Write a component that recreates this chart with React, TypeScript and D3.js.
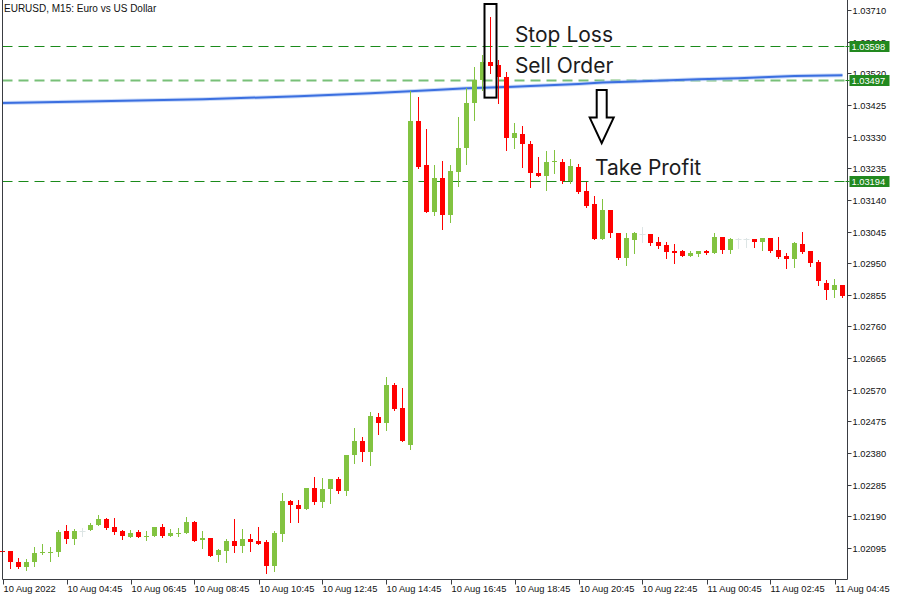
import React from "react";
import * as d3 from "d3";

// ---------- DATA (EURUSD M15, candles index 0..105) ----------
const opens = [
  1.02087, 1.02085, 1.02054, 1.02037, 1.02052, 1.02079, 1.02083, 1.02082, 1.02147, 1.02121,
  1.02147, 1.02148, 1.02163, 1.02183, 1.02159, 1.02147, 1.02129, 1.02144, 1.02127, 1.0213,
  1.02159, 1.0213, 1.0214, 1.02139, 1.02174, 1.02118, 1.02126, 1.02073, 1.02085, 1.02117,
  1.021, 1.02123, 1.02115, 1.02112, 1.0204, 1.02136, 1.02237, 1.02225, 1.02211, 1.02276,
  1.02232, 1.02271, 1.02303, 1.02265, 1.02373, 1.02417, 1.02382, 1.02489, 1.02469, 1.02585,
  1.02516, 1.02403, 1.03377, 1.03245, 1.03105, 1.03206, 1.03095, 1.03225, 1.03295, 1.0343,
  1.035, 1.03555, 1.03545, 1.0351, 1.03325, 1.03338, 1.03307, 1.0322, 1.03213, 1.03254,
  1.03254, 1.03196, 1.0324, 1.03167, 1.03128, 1.03023, 1.0311, 1.0304, 1.02967, 1.0302,
  1.03038, 1.03038, 1.03014, 1.03005, 1.02987, 1.02987, 1.02973, 1.02978, 1.02987, 1.02982,
  1.03029, 1.0299, 1.03023, 1.03023, 1.03023, 1.03015, 1.03026, 1.0299, 1.02972, 1.02964,
  1.03008, 1.02987, 1.02955, 1.02891, 1.02868, 1.02885,
];
const highs = [
  1.0209, 1.02087, 1.02066, 1.02063, 1.02099, 1.02108, 1.02099, 1.0215, 1.02165, 1.02153,
  1.02156, 1.02171, 1.02195, 1.02186, 1.02186, 1.0215, 1.0215, 1.0215, 1.02147, 1.02159,
  1.02168, 1.02153, 1.02156, 1.02189, 1.02177, 1.02147, 1.02126, 1.02093, 1.02123, 1.02183,
  1.02153, 1.02138, 1.02159, 1.0212, 1.02147, 1.02261, 1.0224, 1.0224, 1.02276, 1.02309,
  1.02306, 1.02303, 1.02309, 1.02375, 1.02456, 1.02429, 1.02504, 1.02501, 1.02609, 1.02591,
  1.02576, 1.03468, 1.0345, 1.03353, 1.03245, 1.03257, 1.03245, 1.03389, 1.03475, 1.0354,
  1.03575, 1.0369, 1.0356, 1.03525, 1.0337, 1.03362, 1.03317, 1.03269, 1.03288, 1.0329,
  1.03263, 1.03263, 1.03247, 1.03195, 1.03152, 1.03144, 1.0311, 1.0304, 1.03041, 1.03045,
  1.0306, 1.03038, 1.03028, 1.03015, 1.03007, 1.0299, 1.02987, 1.02987, 1.0299, 1.03042,
  1.03029, 1.03026, 1.03025, 1.03025, 1.03023, 1.03026, 1.03026, 1.03029, 1.0298, 1.03015,
  1.03045, 1.02987, 1.02961, 1.029, 1.02903, 1.02885,
];
const lows = [
  1.02081, 1.02034, 1.02034, 1.02028, 1.02042, 1.02076, 1.02055, 1.0207, 1.02109, 1.02106,
  1.02132, 1.02148, 1.02163, 1.02153, 1.02138, 1.02121, 1.02129, 1.02127, 1.02118, 1.0213,
  1.02127, 1.0213, 1.0213, 1.02139, 1.02115, 1.02094, 1.0207, 1.02055, 1.02052, 1.02082,
  1.02084, 1.02085, 1.02106, 1.02019, 1.02025, 1.02115, 1.02172, 1.02172, 1.02211, 1.02226,
  1.02217, 1.02229, 1.02259, 1.02253, 1.02349, 1.02355, 1.02343, 1.02436, 1.02448, 1.0251,
  1.02415, 1.02393, 1.03237, 1.03105, 1.03095, 1.03054, 1.03075, 1.03183, 1.03248, 1.0338,
  1.0347, 1.0352, 1.0343, 1.03289, 1.03297, 1.0324, 1.03179, 1.03213, 1.0317, 1.0322,
  1.0319, 1.03192, 1.03162, 1.0312, 1.03023, 1.03023, 1.03029, 1.02963, 1.02946, 1.0298,
  1.03015, 1.03005, 1.02997, 1.02967, 1.0295, 1.02973, 1.02973, 1.02973, 1.02978, 1.02982,
  1.0298, 1.0298, 1.02997, 1.03, 1.03, 1.0299, 1.02985, 1.02965, 1.02937, 1.02939,
  1.0298, 1.02943, 1.02883, 1.02841, 1.02847, 1.02847,
];
const closes = [
  1.02084, 1.02052, 1.02037, 1.02054, 1.02081, 1.02084, 1.02084, 1.02144, 1.02121, 1.02147,
  1.02147, 1.02165, 1.02183, 1.02155, 1.02144, 1.0213, 1.02141, 1.02127, 1.02132, 1.02159,
  1.0213, 1.02141, 1.02141, 1.02174, 1.02117, 1.02126, 1.0207, 1.0209, 1.02117, 1.021,
  1.02123, 1.02112, 1.02106, 1.0204, 1.02141, 1.02237, 1.02223, 1.02211, 1.02276, 1.02232,
  1.02273, 1.02303, 1.02265, 1.02375, 1.02417, 1.02382, 1.02492, 1.02469, 1.02585, 1.02512,
  1.02415, 1.03377, 1.0324, 1.03105, 1.03206, 1.03095, 1.03227, 1.03296, 1.03431, 1.035,
  1.03555, 1.03543, 1.0351, 1.03325, 1.0334, 1.03307, 1.0322, 1.03213, 1.03254, 1.03256,
  1.03198, 1.03242, 1.03164, 1.03123, 1.03023, 1.0311, 1.0304, 1.02965, 1.03026, 1.0304,
  1.03038, 1.03012, 1.03003, 1.02985, 1.02982, 1.02973, 1.02982, 1.02987, 1.02982, 1.03029,
  1.0299, 1.03023, 1.03023, 1.03023, 1.03015, 1.03026, 1.02987, 1.0297, 1.02964, 1.03012,
  1.02985, 1.02952, 1.02895, 1.02868, 1.02885, 1.02852,
];

// moving average (sampled at bar indices)
const maIndex = [0, 12, 25, 37, 46, 54, 58, 62, 66, 69, 72, 75, 80, 87, 92, 95, 99, 105];
const maValue = [
  1.03431, 1.03436, 1.03442, 1.03451, 1.0346, 1.0347, 1.03475, 1.03478, 1.03482, 1.03485,
  1.03488, 1.03492, 1.03496, 1.03502, 1.03505, 1.03508, 1.03512, 1.03514,
];

const priceTicks = [
  1.0371, 1.03615, 1.0352, 1.03425, 1.0333, 1.03235, 1.0314, 1.03045, 1.0295, 1.02855,
  1.0276, 1.02665, 1.0257, 1.02475, 1.0238, 1.02285, 1.0219, 1.02095,
];
const timeTickIndex = [0, 8, 16, 24, 32, 40, 48, 56, 64, 72, 80, 88, 96, 104];
const timeTickLabels = [
  "10 Aug 2022", "10 Aug 04:45", "10 Aug 06:45", "10 Aug 08:45", "10 Aug 10:45",
  "10 Aug 12:45", "10 Aug 14:45", "10 Aug 16:45", "10 Aug 18:45", "10 Aug 20:45",
  "10 Aug 22:45", "11 Aug 00:45", "11 Aug 02:45", "11 Aug 04:45",
];

const levelNames = ["Stop Loss", "Sell Order", "Take Profit"];
const levelPrices = [1.03598, 1.03497, 1.03194];

const title = "EURUSD, M15:  Euro vs US Dollar";

// ---------- LAYOUT ----------
const W = 900;
const H = 600;
const LEFT = 2.5;
const RIGHT = 847.5;
const BOTTOM = 579.5;
const GREEN = "#82c341";
const RED = "#ff0000";
const DOJI = "#dde5e5";
const AXIS = "#3a3d42";
const FONT = "'Liberation Sans', Arial, sans-serif";
const TICK_FS = 9.3;

export default function App() {
  const x = d3.scaleLinear().domain([0, 105]).range([2.5, 842.5]);
  const y = d3.scaleLinear().domain([1.02095, 1.0371]).range([548, 10]);

  const maLine = d3
    .line<number>()
    .x((_, i) => x(maIndex[i]))
    .y((d) => y(d));
  const maPath = maLine(maValue) || "";

  const candles = opens.map((o, i) => ({ i, o, h: highs[i], l: lows[i], c: closes[i] }));

  // annotation anchors (in data space)
  const boxIdx = 61;
  const boxTop = 1.03728;
  const boxBottom = 1.03447;
  const arrowIdx = 74.9;
  const arrowTop = 1.0347;
  const arrowShaftEnd = 1.03387;
  const arrowTip = 1.0331;

  const ax = x(arrowIdx);
  const ay0 = y(arrowTop);
  const ay1 = y(arrowShaftEnd);
  const ay2 = y(arrowTip);
  const arrowPts = [
    [ax - 5, ay0],
    [ax + 5, ay0],
    [ax + 5, ay1],
    [ax + 12, ay1],
    [ax, ay2],
    [ax - 12, ay1],
    [ax - 5, ay1],
  ]
    .map((p) => p.join(","))
    .join(" ");

  const labelPos = [
    { idx: 64.05, price: 1.03614 },
    { idx: 64.05, price: 1.0352 },
    { idx: 74.05, price: 1.03216 },
  ];

  const lvlY = (p: number) => Math.round(y(p)) - 0.5;

  return (
    <svg
      width={W}
      height={H}
      style={{ position: "absolute", left: 0, top: 0, background: "#fff" }}
      fontFamily={FONT}
    >
      <rect x={0} y={0} width={W} height={H} fill="#fff" />

      {/* level lines */}
      {levelPrices.map((p, i) => {
        const yy = lvlY(p);
        const sell = i === 1;
        return (
          <line
            key={"lvl" + i}
            x1={LEFT}
            x2={RIGHT}
            y1={yy}
            y2={yy}
            stroke={sell ? "#78c078" : "#1a8a1a"}
            strokeWidth={sell ? 2 : 1}
            strokeDasharray="10,6"
          />
        );
      })}

      {/* moving average */}
      <path d={maPath} fill="none" stroke="#a9c3f3" strokeWidth={4} opacity={0.6} />
      <path d={maPath} fill="none" stroke="#3b6fe0" strokeWidth={2} />

      {/* candles */}
      {candles.map((d) => {
        const cx = x(d.i);
        const color = d.c > d.o ? GREEN : d.c < d.o ? RED : DOJI;
        const top = Math.round(y(Math.max(d.o, d.c)));
        const bot = Math.round(y(Math.min(d.o, d.c)));
        const hy = Math.round(y(d.h));
        const ly = Math.round(y(d.l));
        const doji = d.c === d.o;
        return (
          <g key={"c" + d.i}>
            <line x1={cx} x2={cx} y1={hy} y2={ly + 1} stroke={color} strokeWidth={1} />
            {doji ? (
              <line x1={cx - 3} x2={cx + 3} y1={top + 0.5} y2={top + 0.5} stroke={color} strokeWidth={1} />
            ) : (
              <rect x={cx - 2.5} y={top} width={5} height={Math.max(1, bot - top)} fill={color} />
            )}
          </g>
        );
      })}

      {/* highlight box */}
      <rect
        x={x(boxIdx) - 6}
        y={y(boxTop)}
        width={12}
        height={y(boxBottom) - y(boxTop)}
        fill="none"
        stroke="#000"
        strokeWidth={2}
      />

      {/* arrow */}
      <polygon points={arrowPts} fill="#fff" stroke="#000" strokeWidth={2} strokeLinejoin="miter" />

      {/* annotation texts */}
      {levelNames.map((n, i) => (
        <text
          key={"ann" + i}
          x={x(labelPos[i].idx)}
          y={y(labelPos[i].price)}
          fontFamily="Inter, 'Open Sans', sans-serif"
          fontSize={21}
          fill="#1c1c1c"
        >
          {n}
        </text>
      ))}

      {/* frame */}
      <line x1={LEFT} x2={LEFT} y1={0} y2={BOTTOM} stroke={AXIS} strokeWidth={1} />
      <line x1={RIGHT} x2={RIGHT} y1={0} y2={BOTTOM} stroke={AXIS} strokeWidth={1} />
      <line x1={LEFT} x2={RIGHT} y1={BOTTOM} y2={BOTTOM} stroke={AXIS} strokeWidth={1} />

      {/* price axis */}
      {priceTicks.map((p, i) => {
        const yy = Math.round(y(p)) + 0.5;
        return (
          <g key={"pt" + i}>
            <line x1={RIGHT} x2={RIGHT + 4} y1={yy} y2={yy} stroke={AXIS} />
            <text x={RIGHT + 5} y={yy + 3.5} fontSize={TICK_FS} fill="#111">
              {p.toFixed(5)}
            </text>
          </g>
        );
      })}

      {/* level price labels */}
      {levelPrices.map((p, i) => {
        const yy = lvlY(p);
        return (
          <g key={"lp" + i}>
            <line x1={RIGHT - 2} x2={RIGHT + 2} y1={yy} y2={yy} stroke="#1a8a1a" />
            <rect x={RIGHT + 2} y={yy - 5.5} width={40} height={11} fill="#22891f" />
            <text x={RIGHT + 4} y={yy + 3.5} fontSize={TICK_FS} fill="#fff">
              {p.toFixed(5)}
            </text>
          </g>
        );
      })}

      {/* time axis */}
      {timeTickIndex.map((k, i) => {
        const xx = Math.round(x(k)) + 0.5;
        return (
          <g key={"tt" + i}>
            <line x1={xx} x2={xx} y1={BOTTOM} y2={BOTTOM + 5} stroke={AXIS} />
            <text x={xx} y={592} fontSize={TICK_FS} fill="#111">
              {timeTickLabels[i]}
            </text>
          </g>
        );
      })}

      {/* title */}
      <text x={4} y={12} fontSize={10} fill="#111">
        {title}
      </text>
    </svg>
  );
}
